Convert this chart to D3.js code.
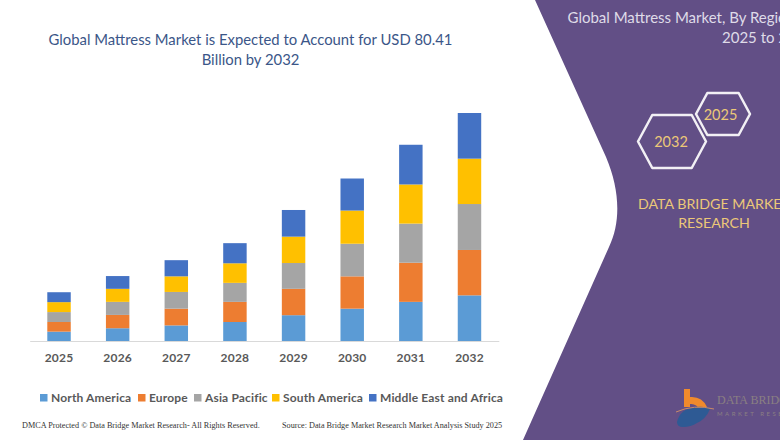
<!DOCTYPE html>
<html>
<head>
<meta charset="utf-8">
<script src="https://cdnjs.cloudflare.com/ajax/libs/d3/7.8.5/d3.min.js"></script>
<style>
html, body { margin: 0; padding: 0; background: #fff; }
svg { display: block; }
</style>
</head>
<body>
<div id="container"></div>
<script>
var width = 780,
    height = 440;

const years = ['2025', '2026', '2027', '2028', '2029', '2030', '2031', '2032'];
const regions = ['North America', 'Europe', 'Asia Pacific', 'South America', 'Middle East and Africa'];
const colors = ['#5b9bd5', '#ed7d31', '#a5a5a5', '#ffc000', '#4472c4'];

// the 2032 total is the 80.41 of the title
const northAmerica = [3.3, 4.5, 5.5, 6.7, 9.1, 11.4, 13.8, 16.1];
const europe = [3.4, 4.7, 5.9, 7.1, 9.3, 11.4, 13.8, 16.0];
const asiaPacific = [3.5, 4.6, 5.9, 6.7, 9.1, 11.5, 13.8, 16.2];
const southAmerica = [3.5, 4.6, 5.5, 6.9, 9.3, 11.7, 13.8, 16.0];
const middleEast = [3.5, 4.5, 5.7, 7.1, 9.4, 11.3, 14.0, 16.1];

const titleLines = ['Global Mattress Market is Expected to Account for USD 80.41', 'Billion by 2032'];
const panelTitleLines = ['Global Mattress Market, By Region', '2025 to 2032'];
const brandLines = ['DATA BRIDGE MARKET', 'RESEARCH'];
const dmcaText = 'DMCA Protected \u00A9 Data Bridge Market Research-  All Rights Reserved.';
const sourceText = 'Source: Data Bridge Market Research  Market Analysis Study 2025';

const font = 'Lato, sans-serif';
const textGrey = '#595959';

var rows = years.map(function(year, i) {
  return {
    year: year,
    'North America': northAmerica[i],
    'Europe': europe[i],
    'Asia Pacific': asiaPacific[i],
    'South America': southAmerica[i],
    'Middle East and Africa': middleEast[i]
  };
});

var svg = d3.select('#container')
            .append('svg')
            .attr('width', width)
            .attr('height', height)
            .attr('viewBox', '0 0 ' + width + ' ' + height);

var baseline = 341,
    plotTop = 113,
    stacked = d3.stack().keys(regions)(rows);

var x = d3.scaleBand()
          .domain(years)
          .range([29.7, 498.8])
          .paddingInner(0.6)
          .paddingOuter(0.3);

var y = d3.scaleLinear()
          .domain([0, d3.max(stacked[stacked.length - 1], function(d) { return d[1]; })])
          .range([baseline, plotTop]);

// bars
svg.append('g')
   .selectAll('g')
   .data(stacked)
   .join('g')
   .attr('fill', function(d, i) { return colors[i]; })
   .selectAll('rect')
   .data(function(d) { return d; })
   .join('rect')
   .attr('x', function(d) { return x(d.data.year); })
   .attr('y', function(d) { return y(d[1]); })
   .attr('width', x.bandwidth())
   .attr('height', function(d) { return y(d[0]) - y(d[1]); });

// axis
var axis = svg.append('g')
              .attr('transform', 'translate(0,' + baseline + ')')
              .call(d3.axisBottom(x).tickSize(0).tickPadding(12));
axis.select('.domain').attr('stroke', '#d9d9d9').attr('stroke-width', 1);
axis.selectAll('text')
    .attr('font-family', font)
    .attr('font-size', 12)
    .attr('font-weight', 700)
    .attr('letter-spacing', 0.2)
    .attr('fill', textGrey);

// title
svg.append('g').selectAll('text')
   .data(titleLines)
   .join('text')
   .attr('x', 250.5)
   .attr('y', function(d, i) { return 45 + i * 20; })
   .attr('text-anchor', 'middle')
   .attr('font-family', font)
   .attr('font-size', 14.85)
   .attr('fill', '#3b5688')
   .text(function(d) { return d; });

// legend
const legendX = [40, 138, 194, 272, 369];
var legend = svg.append('g').selectAll('g')
                .data(regions)
                .join('g')
                .attr('transform', function(d, i) { return 'translate(' + legendX[i] + ',394)'; });
legend.append('rect')
      .attr('width', 7.5).attr('height', 7.5)
      .attr('fill', function(d, i) { return colors[i]; });
legend.append('text')
      .attr('x', 11).attr('y', 7.8)
      .attr('font-family', font)
      .attr('font-size', 12)
      .attr('font-weight', 700)
      .attr('letter-spacing', 0.15)
      .attr('fill', textGrey)
      .text(function(d) { return d; });

// footer
svg.append('text')
   .attr('x', 22).attr('y', 427.5)
   .attr('font-family', '"Liberation Serif", serif')
   .attr('font-size', 8.2)
   .attr('fill', '#333')
   .text(dmcaText);
svg.append('text')
   .attr('x', 282).attr('y', 427.5)
   .attr('font-family', '"Liberation Serif", serif')
   .attr('font-size', 8.2)
   .attr('fill', '#333')
   .text(sourceText);

// purple panel
const panelColor = '#624f86';
var panelPath = d3.path();
panelPath.moveTo(535, 0);
panelPath.lineTo(780, 0);
panelPath.lineTo(780, 440);
panelPath.lineTo(523, 440);
panelPath.lineTo(609, 247);
panelPath.bezierCurveTo(621, 222, 620, 190, 606, 157);
panelPath.closePath();
svg.append('path').attr('d', panelPath.toString()).attr('fill', panelColor);

// these run past the right edge, same as the reference crop
const panelTitleX = [567.5, 722];
svg.append('g').selectAll('text')
   .data(panelTitleLines)
   .join('text')
   .attr('x', function(d, i) { return panelTitleX[i]; })
   .attr('y', function(d, i) { return 23 + i * 20; })
   .attr('font-family', font)
   .attr('font-size', 15)
   .attr('fill', '#dfdbe8')
   .text(function(d) { return d; });

function hexagon(cx, cy, rx, ry, inset) {
  var p = d3.path();
  p.moveTo(cx - rx, cy);
  p.lineTo(cx - rx + inset, cy - ry);
  p.lineTo(cx + rx - inset, cy - ry);
  p.lineTo(cx + rx, cy);
  p.lineTo(cx + rx - inset, cy + ry);
  p.lineTo(cx - rx + inset, cy + ry);
  p.closePath();
  return p.toString();
}

const hexYears = ['2032', '2025'];
const hexCx = [672, 723],
      hexCy = [141.5, 114],
      hexRx = [34, 27],
      hexRy = [26.5, 21];
svg.append('g').selectAll('path')
   .data(hexYears)
   .join('path')
   .attr('d', function(d, i) { return hexagon(hexCx[i], hexCy[i], hexRx[i], hexRy[i], hexRx[i] * 0.42); })
   .attr('fill', 'none')
   .attr('stroke', '#f2f0f5')
   .attr('stroke-width', 2.5)
   .attr('stroke-linejoin', 'round');
const hexTextX = [671, 720.5];
svg.append('g').selectAll('text')
   .data(hexYears)
   .join('text')
   .attr('x', function(d, i) { return hexTextX[i]; })
   .attr('y', function(d, i) { return hexCy[i] + 5.5; })
   .attr('text-anchor', 'middle')
   .attr('font-family', font)
   .attr('font-size', 14.5)
   .attr('fill', '#ecc878')
   .text(function(d) { return d; });

svg.append('g').selectAll('text')
   .data(brandLines)
   .join('text')
   .attr('x', function(d, i) { return i ? 714 : 638; })
   .attr('y', function(d, i) { return 208.5 + i * 19.5; })
   .attr('text-anchor', function(d, i) { return i ? 'middle' : 'start'; })
   .attr('font-family', font)
   .attr('font-size', 14.2)
   .attr('fill', '#ecc878')
   .text(function(d) { return d; });

// logo
svg.append('path')
   .attr('d', 'M684 389 h6 v8 q12 -1 17 10 l-7 3 q-4 -7 -10 -6 v3 h-6 z')
   .attr('fill', '#f08a2c');
svg.append('path')
   .attr('d', 'M677 422 q3 -13 18 -15 q12 -1 15 2 q-4 10 -13 14 q-6 4 -14 4 q-6 0 -6 -5 z')
   .attr('fill', '#2e5a94');
svg.append('path')
   .attr('d', 'M676 412 q18 -8 38 -3')
   .attr('fill', 'none')
   .attr('stroke', '#c98a6a')
   .attr('stroke-width', 1);
svg.append('text')
   .attr('x', 717).attr('y', 404)
   .attr('font-family', '"Liberation Serif", serif')
   .attr('font-size', 12)
   .attr('fill', '#8a7f82')
   .text('DATA BRIDGE');
svg.append('text')
   .attr('x', 717).attr('y', 416)
   .attr('font-family', font)
   .attr('font-size', 6)
   .attr('letter-spacing', 2.5)
   .attr('fill', '#8a7f82')
   .text('MARKET RESEARCH');
</script>
</body>
</html>
